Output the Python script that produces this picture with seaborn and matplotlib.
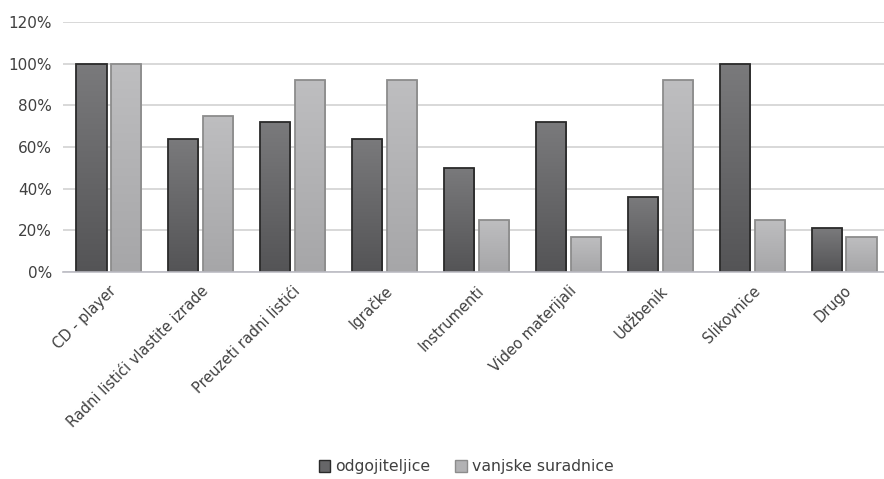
import numpy as np
import pandas as pd
import matplotlib
matplotlib.use("Agg")
import matplotlib.pyplot as plt
from matplotlib.colors import LinearSegmentedColormap
from matplotlib.patches import Patch
from matplotlib.ticker import PercentFormatter
import seaborn as sns

categories = ["CD - player", "Radni listići vlastite izrade", "Preuzeti radni listići",
              "Igračke", "Instrumenti", "Video materijali", "Udžbenik", "Slikovnice", "Drugo"]
odgojiteljice = [1.00, 0.64, 0.72, 0.64, 0.50, 0.72, 0.36, 1.00, 0.21]
vanjske_suradnice = [1.00, 0.75, 0.92, 0.92, 0.25, 0.17, 0.92, 0.25, 0.17]
series_names = ["odgojiteljice", "vanjske suradnice"]

df = pd.DataFrame({
    "kategorija": categories * 2,
    "udio": odgojiteljice + vanjske_suradnice,
    "skupina": [series_names[0]] * len(categories) + [series_names[1]] * len(categories),
})

sns.set_theme(style="white")
plt.rcParams["font.family"] = ["DejaVu Sans"]

fig = plt.figure(figsize=(8.84, 4.79), dpi=100)
ax = fig.add_axes([63 / 884, 1 - 272 / 479, 827 / 884, 250 / 479])

flat = {series_names[0]: "#666668", series_names[1]: "#b2b2b4"}
edges = {series_names[0]: "#2a2a2a", series_names[1]: "#8c8c8c"}
grads = {
    series_names[0]: LinearSegmentedColormap.from_list("d", ["#545456", "#7a7a7c"]),
    series_names[1]: LinearSegmentedColormap.from_list("l", ["#a6a6a8", "#bebec0"]),
}

sns.barplot(data=df, x="kategorija", y="udio", hue="skupina", order=categories,
            hue_order=series_names, palette=flat, width=0.76, gap=0.14,
            legend=False, ax=ax)

# Vertical gradient fill inside each bar, clipped to the bar outline
grad = np.linspace(0, 1, 256).reshape(-1, 1)
for container, name in zip(ax.containers, series_names):
    for bar in container:
        x0, y0 = bar.get_x(), bar.get_y()
        w, h = bar.get_width(), bar.get_height()
        img = ax.imshow(grad, cmap=grads[name], origin="lower", aspect="auto",
                        extent=[x0, x0 + w, y0, y0 + h], zorder=bar.get_zorder() - 0.01)
        img.set_clip_path(bar)
        bar.set_facecolor("none")
        bar.set_edgecolor(edges[name])
        bar.set_linewidth(1.3)

ax.set_xlim(-0.5, len(categories) - 0.5)
ax.set_ylim(0, 1.2)
ax.set_yticks(np.arange(0, 1.21, 0.2))
ax.yaxis.set_major_formatter(PercentFormatter(1.0, decimals=0))
ax.set_axisbelow(True)
ax.grid(axis="y", color="#d2d2d2", linewidth=1.2)
ax.grid(axis="x", visible=False)
for s in ["top", "right", "left"]:
    ax.spines[s].set_visible(False)
ax.spines["bottom"].set_color("#bcbcc4")
ax.spines["bottom"].set_linewidth(1.2)
ax.set_xlabel("")
ax.set_ylabel("")
ax.tick_params(axis="both", length=0, colors="#404040")
ax.tick_params(axis="y", pad=8, labelsize=11)
ax.set_xticks(range(len(categories)))
ax.set_xticklabels(categories, rotation=45, ha="right", va="top",
                   rotation_mode="anchor", color="#404040", fontsize=10.5)
ax.tick_params(axis="x", pad=8)

handles = [Patch(facecolor="#666668", edgecolor="#2a2a2a", label=series_names[0]),
           Patch(facecolor="#b2b2b4", edgecolor="#8c8c8c", label=series_names[1])]
fig.legend(handles=handles, loc="center", bbox_to_anchor=(466 / 884, 1 - 467 / 479),
           ncol=2, frameon=False, fontsize=11.3, handlelength=0.75, handleheight=0.75,
           handletextpad=0.3, columnspacing=1.6, labelcolor="#404040")

fig.savefig("out.png", dpi=100)
